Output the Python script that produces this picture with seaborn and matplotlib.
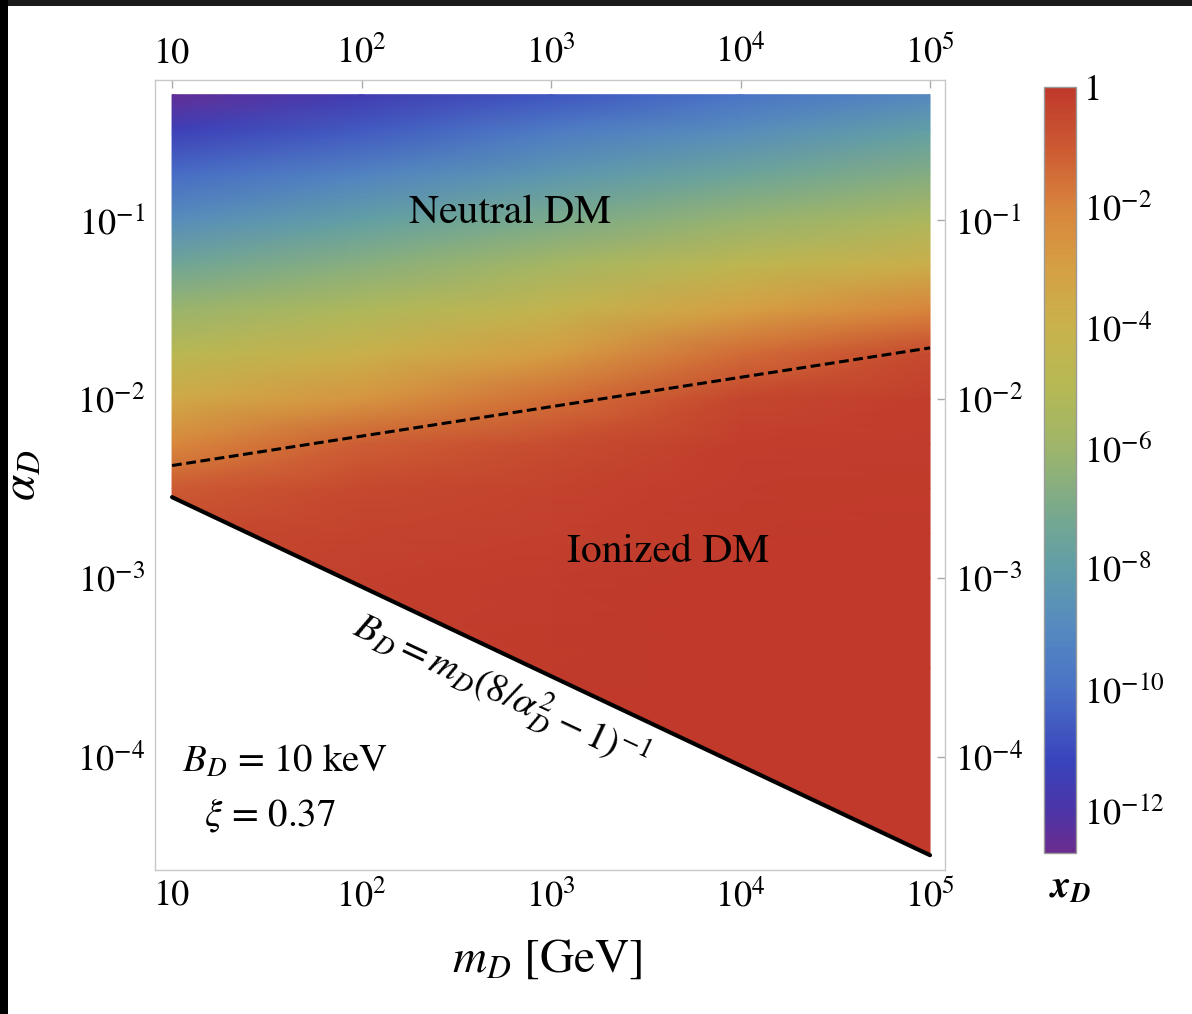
import numpy as np
import seaborn as sns
import matplotlib
matplotlib.use("Agg")
import matplotlib.pyplot as plt
from matplotlib.colors import LinearSegmentedColormap
from matplotlib.patches import Rectangle
from matplotlib.ticker import FixedLocator, FixedFormatter, NullLocator

# ---- data ----
m_grid = [10, 1e2, 1e3, 1e4, 1e5]                      # m_D [GeV]
log_alpha_grid = [-0.3, -0.5, -0.75, -1.0, -1.25, -1.5, -1.75,
                  -2.0, -2.25, -2.5, -2.75, -3.0, -3.5, -4.6]   # log10 alpha_D

# log10 x_D, one column per mass value (top row first)
logx_m1e1 = [-12.5, -11.4, -10.1, -8.8, -7.4, -6.1, -4.8, -3.5, -2.1, -1.0, -0.5, -0.3, -0.15, -0.1]
logx_m1e2 = [-11.6, -10.6, -9.2, -7.9, -6.6, -5.3, -3.9, -2.6, -1.1, -0.5, -0.3, -0.2, -0.1, -0.05]
logx_m1e3 = [-10.7, -9.6, -8.3, -7.0, -5.7, -4.3, -2.9, -1.5, -0.6, -0.3, -0.2, -0.1, -0.05, 0.0]
logx_m1e4 = [-9.9, -8.8, -7.5, -6.2, -4.6, -3.0, -1.4, -0.4, -0.15, -0.1, -0.05, 0.0, 0.0, 0.0]
logx_m1e5 = [-9.0, -7.9, -6.7, -5.4, -3.8, -2.0, -0.5, -0.15, -0.1, -0.05, 0.0, 0.0, 0.0, 0.0]

# B_D = m_D (8/alpha_D^2 - 1)^-1 with B_D = 10 keV
bound_m = [10, 1e5]
bound_alpha = [2.83e-3, 2.83e-5]
# dashed transition line
dash_m = [10, 1e5]
dash_alpha = [4.25e-3, 1.93e-2]

cbar_min, cbar_max = -12.72, 0.0
cbar_ticks = [0, -2, -4, -6, -8, -10, -12]
cbar_labels = ['1', r'$10^{-2}$', r'$10^{-4}$', r'$10^{-6}$', r'$10^{-8}$', r'$10^{-10}$', r'$10^{-12}$']
x_ticks = [10, 1e2, 1e3, 1e4, 1e5]
x_labels = ['10', r'$10^{2}$', r'$10^{3}$', r'$10^{4}$', r'$10^{5}$']
y_ticks = [1e-1, 1e-2, 1e-3, 1e-4]
y_labels = [r'$10^{-1}$', r'$10^{-2}$', r'$10^{-3}$', r'$10^{-4}$']

# ---- style ----
sns.set_style("white")
plt.rcParams['font.family'] = ['STIXGeneral', 'DejaVu Serif']
plt.rcParams['mathtext.fontset'] = 'stix'
plt.rcParams['text.color'] = 'black'
plt.rcParams['axes.labelcolor'] = 'black'

# rainbow scheme sampled from the colour bar (bottom -> top)
cmap_pos = [-12.72, -12.0, -11.2, -10.0, -9.0, -8.0, -7.0, -6.0, -5.0, -4.0, -3.0, -2.0, -1.0, 0.0]
cmap_hex = ['#6b2c8f', '#4a35a8', '#3a44bd', '#4a72c6', '#5589c0', '#5f9ea8', '#7aaa8c',
            '#9db56a', '#b5b955', '#c8b24c', '#d5a044', '#d8853c', '#cc5a33', '#c0392b']
cmap = LinearSegmentedColormap.from_list(
    'mma_rainbow',
    [((p - cbar_min) / (cbar_max - cbar_min), c) for p, c in zip(cmap_pos, cmap_hex)])

fig = plt.figure(figsize=(11.92, 10.14), dpi=100)
ax = fig.add_axes([155 / 1192, 1 - 870 / 1014, 790 / 1192, 790 / 1014])
cax = fig.add_axes([1044 / 1192, 1 - 853 / 1014, 32 / 1192, 766 / 1014])

Z = np.array([logx_m1e1, logx_m1e2, logx_m1e3, logx_m1e4, logx_m1e5]).T
alpha_vals = 10 ** np.array(log_alpha_grid)

ax.set_xscale('log')
ax.set_yscale('log')
mesh = ax.pcolormesh(m_grid, alpha_vals, Z, shading='gouraud', cmap=cmap,
                     vmin=cbar_min, vmax=cbar_max, zorder=1, rasterized=True)
# blank out the region below the binding line
ax.fill_between(bound_m, 1e-6, bound_alpha, facecolor='white', edgecolor='white',
                lw=2.5, zorder=1.5)

sns.lineplot(x=bound_m, y=bound_alpha, ax=ax, color='black', lw=3.0, zorder=3)
sns.lineplot(x=dash_m, y=dash_alpha, ax=ax, color='black', lw=2.2, zorder=3,
             linestyle=(0, (3.2, 1.5)))

ax.set_xlim(10 ** 0.910, 10 ** 5.079)
ax.set_ylim(10 ** -4.631, 10 ** -0.218)

ax.xaxis.set_major_locator(FixedLocator(x_ticks))
ax.xaxis.set_major_formatter(FixedFormatter(x_labels))
ax.yaxis.set_major_locator(FixedLocator(y_ticks))
ax.yaxis.set_major_formatter(FixedFormatter(y_labels))
ax.xaxis.set_minor_locator(NullLocator())
ax.yaxis.set_minor_locator(NullLocator())
ax.tick_params(which='major', direction='in', length=6, width=1, color='#aaaaaa',
               top=True, right=True, labeltop=True, labelright=True,
               labelsize=26, pad=7, labelcolor='black')
for sp in ax.spines.values():
    sp.set_color('#c8c8c8')
    sp.set_linewidth(1.0)

ax.set_xlabel(r'$m_D$ [GeV]', fontsize=34)
ax.xaxis.set_label_coords(0.497, -0.086)
ax.set_ylabel(r'$\alpha_D$', fontsize=34)
ax.yaxis.set_label_coords(-0.139, 0.5)

ax.text(608, 0.109, 'Neutral DM', fontsize=30, ha='center', va='center', zorder=4)
ax.text(4140, 1.40e-3, 'Ionized DM', fontsize=30, ha='center', va='center', zorder=4)
ax.text(540, 2.30e-4, r'$B_D = m_D(8/\alpha_D^2 - 1)^{-1}$', fontsize=28,
        rotation=-25.2, rotation_mode='anchor', ha='center', va='center', zorder=4)
ax.text(0.165, 0.137, r'$B_D$ = 10 keV', transform=ax.transAxes, fontsize=28,
        ha='center', va='center', zorder=4)
ax.text(0.145, 0.070, r'$\xi$ = 0.37', transform=ax.transAxes, fontsize=28,
        ha='center', va='center', zorder=4)

cbar = fig.colorbar(mesh, cax=cax)
cbar.set_ticks(cbar_ticks)
cbar.set_ticklabels(cbar_labels)
cbar.outline.set_edgecolor('#999999')
cbar.outline.set_linewidth(1.0)
cax.tick_params(direction='in', length=4, color='#888888', labelsize=26, pad=6,
                labelcolor='black')
cax.yaxis.set_minor_locator(NullLocator())
cax.text(0.81, -0.046, r'$\mathbfit{x}_{\mathbfit{D}}$', transform=cax.transAxes,
         fontsize=28, ha='center', va='center')

# dark screenshot edges
fig.add_artist(Rectangle((0, 1 - 6 / 1014), 1, 6 / 1014, transform=fig.transFigure,
                         color='#1b1b1b', lw=0))
fig.add_artist(Rectangle((0, 0), 8 / 1192, 1, transform=fig.transFigure,
                         color='black', lw=0))

fig.savefig('out.png', dpi=100)
